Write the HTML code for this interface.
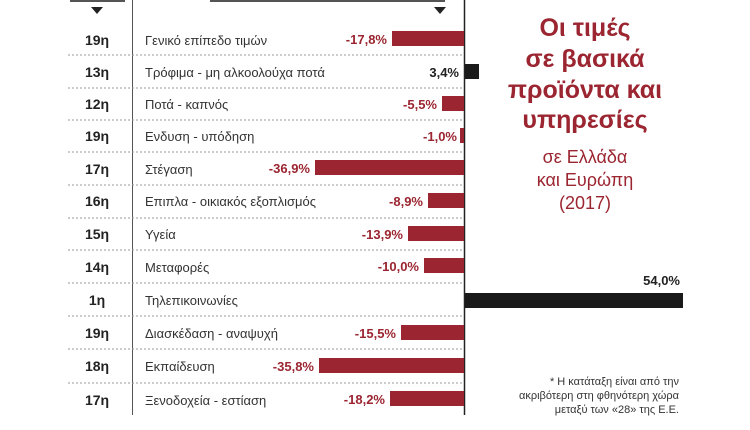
<!DOCTYPE html>
<html><head><meta charset="utf-8"><style>
html,body{margin:0;padding:0;background:#fff;}
svg{display:block;font-family:"Liberation Sans","DejaVu Sans",sans-serif;}
</style></head><body>
<svg width="750" height="430" viewBox="0 0 750 430" xmlns="http://www.w3.org/2000/svg">
<rect width="750" height="430" fill="#fff"/>
<rect x="70" y="0" width="55" height="2" fill="#555"/>
<rect x="210" y="0" width="235" height="2" fill="#555"/>
<polygon points="91,7 103,7 97,14" fill="#222"/>
<polygon points="434,7 446,7 440,14" fill="#222"/>
<line x1="132.5" y1="0" x2="132.5" y2="415" stroke="#555" stroke-width="1"/>
<line x1="464.5" y1="0" x2="464.5" y2="415" stroke="#222" stroke-width="1.5"/>
<g stroke="#999" stroke-width="1" stroke-dasharray="2,2">
<line x1="68" y1="55" x2="464" y2="55"/>
<line x1="68" y1="88" x2="464" y2="88"/>
<line x1="68" y1="120" x2="464" y2="120"/>
<line x1="68" y1="152" x2="464" y2="152"/>
<line x1="68" y1="185" x2="464" y2="185"/>
<line x1="68" y1="218" x2="464" y2="218"/>
<line x1="68" y1="250" x2="464" y2="250"/>
<line x1="68" y1="283" x2="464" y2="283"/>
<line x1="68" y1="316" x2="464" y2="316"/>
<line x1="68" y1="349" x2="464" y2="349"/>
<line x1="68" y1="383" x2="464" y2="383"/>
</g>
<g font-size="14" font-weight="bold" fill="#222" text-anchor="middle">
<text x="97" y="45">19η</text><text x="97" y="77">13η</text><text x="97" y="109">12η</text>
<text x="97" y="141">19η</text><text x="97" y="174">17η</text><text x="97" y="206">16η</text>
<text x="97" y="239">15η</text><text x="97" y="272">14η</text><text x="97" y="305">1η</text>
<text x="97" y="338">19η</text><text x="97" y="371">18η</text><text x="97" y="405">17η</text>
</g>
<g font-size="13" fill="#333">
<text x="145" y="45">Γενικό επίπεδο τιμών</text>
<text x="145" y="77">Τρόφιμα - μη αλκοολούχα ποτά</text>
<text x="145" y="109">Ποτά - καπνός</text>
<text x="145" y="141">Ενδυση - υπόδηση</text>
<text x="145" y="174">Στέγαση</text>
<text x="145" y="206">Επιπλα - οικιακός εξοπλισμός</text>
<text x="145" y="239">Υγεία</text>
<text x="145" y="272">Μεταφορές</text>
<text x="145" y="305">Τηλεπικοινωνίες</text>
<text x="145" y="338">Διασκέδαση - αναψυχή</text>
<text x="145" y="371">Εκπαίδευση</text>
<text x="145" y="405">Ξενοδοχεία - εστίαση</text>
</g>
<g fill="#9b2530">
<rect x="392" y="31" width="72" height="15"/>
<rect x="442" y="96" width="22" height="15"/>
<rect x="460" y="128" width="4" height="15"/>
<rect x="315" y="160" width="149" height="15"/>
<rect x="428" y="193" width="36" height="15"/>
<rect x="408" y="226" width="56" height="15"/>
<rect x="424" y="258" width="40" height="15"/>
<rect x="401" y="325" width="63" height="15"/>
<rect x="319" y="358" width="145" height="15"/>
<rect x="390" y="391" width="74" height="15"/>
</g>
<rect x="465" y="64" width="14" height="15" fill="#1a1a1a"/>
<rect x="465" y="293" width="218" height="15" fill="#1a1a1a"/>
<g font-size="13" font-weight="bold" fill="#9b2530" text-anchor="end">
<text x="387" y="44">-17,8%</text>
<text x="437" y="109">-5,5%</text>
<text x="457" y="141">-1,0%</text>
<text x="310" y="173">-36,9%</text>
<text x="423" y="206">-8,9%</text>
<text x="403" y="239">-13,9%</text>
<text x="419" y="271">-10,0%</text>
<text x="396" y="338">-15,5%</text>
<text x="314" y="371">-35,8%</text>
<text x="385" y="404">-18,2%</text>
</g>
<g font-size="13" font-weight="bold" fill="#222" text-anchor="end">
<text x="459" y="77">3,4%</text>
<text x="680" y="285">54,0%</text>
</g>
<g fill="#9b2530" text-anchor="middle">
<text x="585" y="36" font-size="25" font-weight="bold">Οι τιμές</text>
<text x="585" y="67" font-size="25" font-weight="bold">σε βασικά</text>
<text x="585" y="98" font-size="25" font-weight="bold">προϊόντα και</text>
<text x="585" y="128" font-size="25" font-weight="bold">υπηρεσίες</text>
<text x="585" y="163" font-size="18">σε Ελλάδα</text>
<text x="585" y="186" font-size="18">και Ευρώπη</text>
<text x="585" y="209" font-size="18">(2017)</text>
</g>
<g font-size="11" fill="#333" text-anchor="end">
<text x="679" y="385">* Η κατάταξη είναι από την</text>
<text x="679" y="399">ακριβότερη στη φθηνότερη χώρα</text>
<text x="679" y="413">μεταξύ των «28» της Ε.Ε.</text>
</g>
</svg>
</body></html>
